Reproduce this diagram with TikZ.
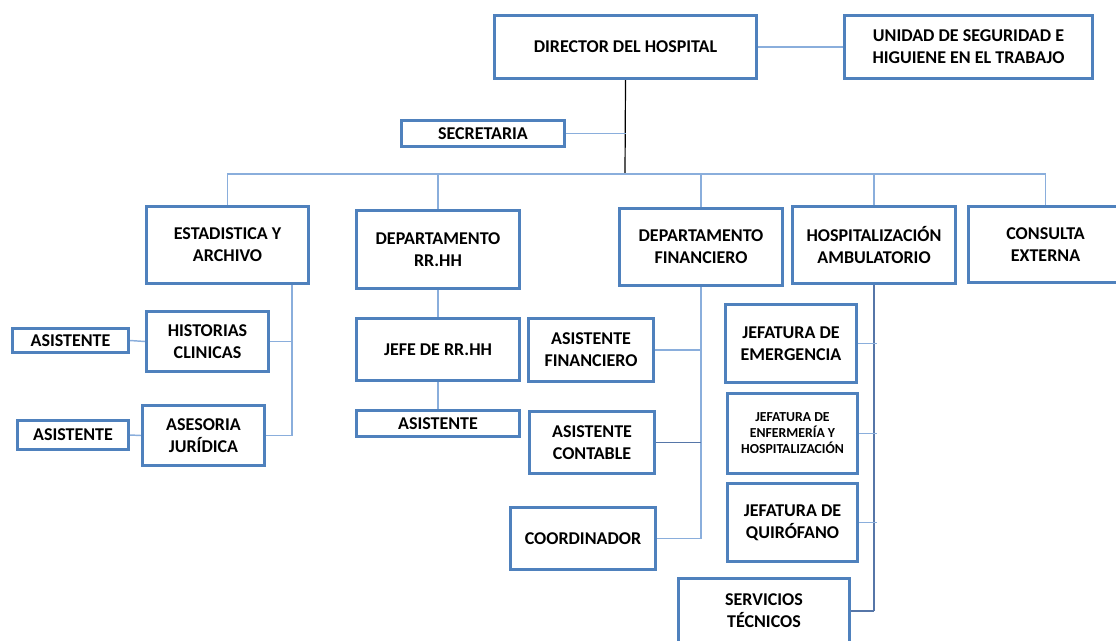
\documentclass[tikz,border=0pt]{standalone}
\usepackage{fontspec}
\setmainfont{Carlito}
\usetikzlibrary{backgrounds}
\definecolor{boxblue}{HTML}{4F81BD}
\definecolor{linkblue}{HTML}{8AAEDC}
\definecolor{linkdark}{HTML}{5676A8}
\tikzset{
  unit/.style={draw=boxblue, line width=2.2pt, fill=white, inner sep=0pt,
    align=center, text=black, font=\bfseries\fontsize{13.5}{16.5}\selectfont},
  small/.style={font=\bfseries\fontsize{10.3}{12}\selectfont},
  lnk/.style={draw=linkblue, line width=1.1pt},
  lnkdark/.style={draw=linkdark, line width=1.1pt},
  chief/.style={draw=black, line width=0.9pt},
}
% \orgbox[options]{left}{top}{right}{bottom}{name}{text}, outer edges in px
\newcommand\orgbox[7][]{%
  \node[unit,#1,minimum width={(#4-#2-3)*0.75pt},minimum height={(#5-#3-3)*0.75pt}]
    (#6) at ({(#2+#4)/2},{(#3+#5)/2}) {#7};}
\begin{document}
\begin{tikzpicture}[x=0.75pt,y=-0.75pt]
\useasboundingbox (0,0) rectangle (1116,640);

% top management
\orgbox{493}{14}{758}{80}{dir}{DIRECTOR DEL HOSPITAL}
\orgbox{843}{14}{1094}{80}{usht}{UNIDAD DE SEGURIDAD E\\HIGUIENE EN EL TRABAJO}
\orgbox{400}{119}{566}{148}{sec}{SECRETARIA}
\coordinate (hub) at (625,174);

% departments
\orgbox{145}{205}{310}{285}{est}{ESTADISTICA Y\\ARCHIVO}
\orgbox{355}{209}{521}{290}{rrhh}{DEPARTAMENTO\\RR.HH}
\orgbox{618}{207}{784}{287}{fin}{DEPARTAMENTO\\FINANCIERO}
\orgbox{791}{205}{957}{285}{hosp}{HOSPITALIZACIÓN\\AMBULATORIO}
\orgbox{967}{205}{1124}{284}{cext}{CONSULTA\\EXTERNA}

% statistics and archive
\orgbox{145}{310}{270}{373}{hc}{HISTORIAS\\CLINICAS}
\orgbox{141}{404}{266}{467}{aj}{ASESORIA\\JURÍDICA}
\orgbox{11}{327}{130}{354}{as1}{ASISTENTE}
\orgbox{16}{419}{130}{451}{as2}{ASISTENTE}
\coordinate (esttrunk) at (292,285);

% human resources
\orgbox{355}{317}{521}{382}{jrh}{JEFE DE RR.HH}
\orgbox{355}{409}{521}{438}{as3}{ASISTENTE}

% finance
\orgbox{527}{317}{655}{383}{af}{ASISTENTE\\FINANCIERO}
\orgbox{528}{410}{656}{475}{ac}{ASISTENTE\\CONTABLE}
\orgbox{509}{506}{657}{571}{coo}{COORDINADOR}

% hospitalization
\orgbox{724}{303}{858}{384}{jem}{JEFATURA DE\\EMERGENCIA}
\orgbox[small]{726}{392}{859}{475}{jenf}{JEFATURA DE\\ENFERMERÍA Y\\HOSPITALIZACIÓN}
\orgbox{726}{482}{859}{563}{jq}{JEFATURA DE\\QUIRÓFANO}
\orgbox{677}{577}{851}{645}{st}{SERVICIOS\\TÉCNICOS}

\begin{scope}[on background layer]
  \draw[chief] (dir.south) -- (hub);
  \draw[lnk] (dir.east) -- (usht.west);
  \draw[lnk] (sec.east) -- (sec.east -| dir.south);
  \draw[lnk] (est.north) -- (est.north |- hub) -- (cext.north |- hub) -- (cext.north);
  \draw[lnk] (rrhh.north) -- (rrhh.north |- hub);
  \draw[lnk] (fin.north) -- (fin.north |- hub);
  \draw[lnk] (hosp.north) -- (hosp.north |- hub);

  \draw[lnk] (esttrunk) -- (esttrunk |- aj.east);
  \draw[lnk] (hc.east) -- (hc.east -| esttrunk);
  \draw[lnk] (aj.east) -- (aj.east -| esttrunk);
  \draw[lnk] (as1.east) -- (hc.west);
  \draw[lnk] (as2.east) -- (aj.west);

  \draw[lnk] (rrhh.south) -- (jrh.north);
  \draw[lnk] (jrh.south) -- (as3.north);

  \draw[lnk] (fin.south) -- (fin.south |- coo.east);
  \draw[lnk] (af.east) -- (af.east -| fin.south);
  \draw[lnkdark] (ac.east) -- (ac.east -| fin.south);
  \draw[lnk] (coo.east) -- (coo.east -| fin.south);

  \draw[lnkdark] (hosp.south) -- (hosp.south |- st.east);
  \draw[lnk] (jem.east) -- ([xshift=2pt]jem.east -| hosp.south);
  \draw[lnk] (jenf.east) -- ([xshift=2pt]jenf.east -| hosp.south);
  \draw[lnk] (jq.east) -- ([xshift=2pt]jq.east -| hosp.south);
  \draw[lnkdark] (st.east) -- (st.east -| hosp.south);
\end{scope}
\end{tikzpicture}
\end{document}
